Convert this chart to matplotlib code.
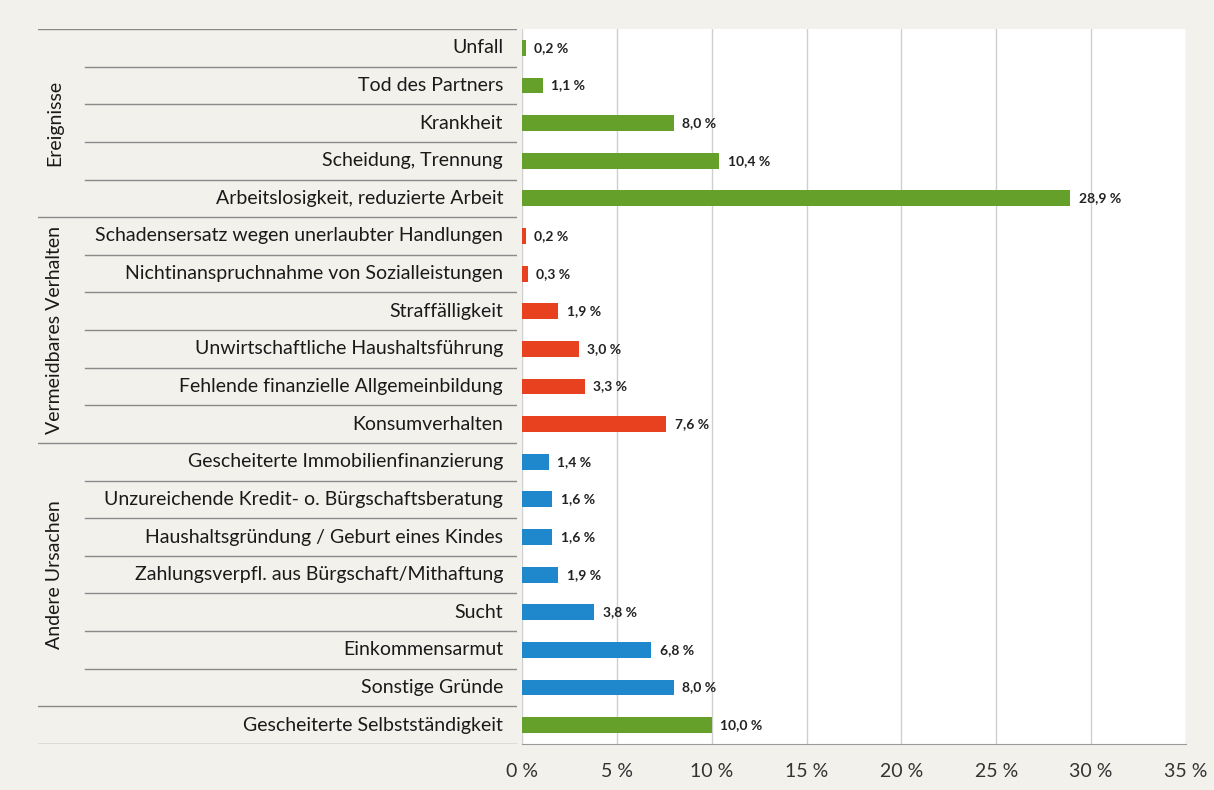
import numpy as np
import matplotlib
matplotlib.use("Agg")
from matplotlib import pyplot as plt

plt.rcParams['font.family'] = ['Lato', 'DejaVu Sans']

categories = [
    "Unfall", "Tod des Partners", "Krankheit", "Scheidung, Trennung",
    "Arbeitslosigkeit, reduzierte Arbeit",
    "Schadensersatz wegen unerlaubter Handlungen",
    "Nichtinanspruchnahme von Sozialleistungen", "Straffälligkeit",
    "Unwirtschaftliche Haushaltsführung",
    "Fehlende finanzielle Allgemeinbildung", "Konsumverhalten",
    "Gescheiterte Immobilienfinanzierung",
    "Unzureichende Kredit- o. Bürgschaftsberatung",
    "Haushaltsgründung / Geburt eines Kindes",
    "Zahlungsverpfl. aus Bürgschaft/Mithaftung", "Sucht",
    "Einkommensarmut", "Sonstige Gründe",
    "Gescheiterte Selbstständigkeit",
]
values = [0.2, 1.1, 8.0, 10.4, 28.9,
          0.2, 0.3, 1.9, 3.0, 3.3, 7.6,
          1.4, 1.6, 1.6, 1.9, 3.8, 6.8, 8.0,
          10.0]
groups = ["Ereignisse"] * 5 + ["Vermeidbares Verhalten"] * 6 + \
         ["Andere Ursachen"] * 7 + [""]
group_names = ["Ereignisse", "Vermeidbares Verhalten", "Andere Ursachen"]
group_colors = {"Ereignisse": "#65a02a", "Vermeidbares Verhalten": "#e8411f",
                "Andere Ursachen": "#1f87cc", "": "#65a02a"}
xticks = [0, 5, 10, 15, 20, 25, 30, 35]

W, H = 1214, 790
fig = plt.figure(figsize=(W / 100, H / 100), dpi=100)
fig.patch.set_facecolor("#f3f1ec")

top, bottom = 29, 744
x0, x1 = 522, 1186
ax = fig.add_axes([x0 / W, 1 - bottom / H, (x1 - x0) / W, (bottom - top) / H])
tab = fig.add_axes([38 / W, 1 - bottom / H, (517 - 38) / W, (bottom - top) / H])

n = len(categories)
y = np.arange(n)

# bars
colors = [group_colors[g] for g in groups]
ax.barh(y, values, height=0.42, color=colors, zorder=3)
for yi, v in zip(y, values):
    ax.text(v + 0.45, yi, f"{v:.1f} %".replace(".", ","), va="center",
            ha="left", fontsize=10, fontweight="bold", color="#222222")

ax.set_xlim(0, 35)
ax.set_ylim(n - 0.5, -0.5)
ax.set_facecolor("white")
ax.set_xticks(xticks)
ax.set_xticklabels([f"{t} %" for t in xticks], fontsize=14, color="#333333")
ax.set_yticks([])
ax.tick_params(axis="x", length=0, pad=14)
ax.grid(axis="x", color="#cfcfcf", linewidth=1, zorder=0)
for s in ["top", "right", "left"]:
    ax.spines[s].set_visible(False)
ax.spines["bottom"].set_color("#9a9a9a")

# left table with labels and separators
tab.set_xlim(0, 1)
tab.set_ylim(n - 0.5, -0.5)
tab.axis("off")
tab_w = 517 - 38
inner = (85 - 38) / tab_w
label_x = (503 - 38) / tab_w
for yi, c in zip(y, categories):
    tab.text(label_x, yi, c, ha="right", va="center", fontsize=14,
             color="#1a1a1a")

tab.plot([0, 1], [-0.5, -0.5], color="#8a8a8a", lw=1)
for i in range(n):
    yb = i + 0.5
    boundary = i == n - 1 or groups[i] != groups[i + 1]
    start = 0 if boundary else inner
    tab.plot([start, 1], [yb, yb], color="#8a8a8a", lw=1)

for g in group_names:
    idx = [i for i, gg in enumerate(groups) if gg == g]
    tab.text((55 - 38) / tab_w, np.mean(idx), g, rotation=90, ha="center",
             va="center", fontsize=14, color="#1a1a1a")

fig.savefig("out.png", dpi=100, facecolor=fig.get_facecolor())
